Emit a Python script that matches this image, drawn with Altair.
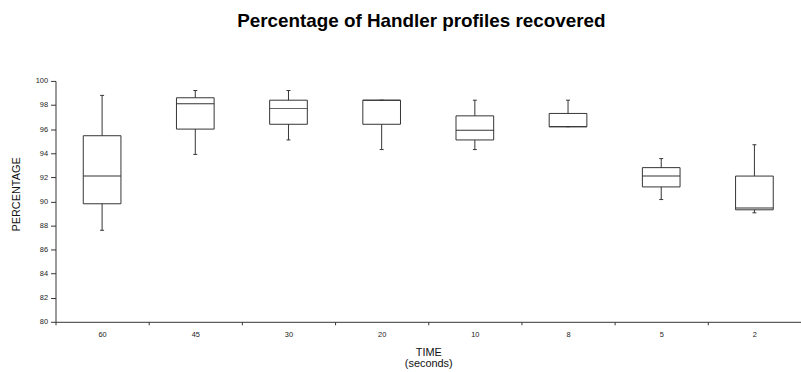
import altair as alt
import pandas as pd

times = ["60", "45", "30", "20", "10", "8", "5", "2"]
whisker_low = [87.6, 93.9, 95.1, 94.3, 94.3, 96.2, 90.15, 89.05]
q1 = [89.8, 96.0, 96.4, 96.4, 95.1, 96.2, 91.2, 89.3]
median = [92.1, 98.1, 97.7, 98.4, 95.9, 96.2, 92.1, 89.45]
q3 = [95.45, 98.6, 98.4, 98.4, 97.1, 97.3, 92.8, 92.1]
whisker_high = [98.8, 99.2, 99.2, 98.4, 98.4, 98.4, 93.55, 94.7]
y_ticks = [80, 82, 84, 86, 88, 90, 92, 94, 96, 98, 100]

df = pd.DataFrame({
    "time": times,
    "lo": whisker_low,
    "q1": q1,
    "med": median,
    "q3": q3,
    "hi": whisker_high,
})

FONT = "Liberation Sans"
LINE = "#333333"

x = alt.X(
    "time:N",
    sort=times,
    scale=alt.Scale(paddingInner=0, paddingOuter=0),
    axis=alt.Axis(
        title=["TIME", "(seconds)"],
        labelAngle=0,
        tickBand="extent",
        tickSize=3,
        labelPadding=6,
        labelFontSize=7.5,
        labelFont=FONT,
        labelColor="#222222",
        titleFont=FONT,
        titleFontSize=11,
        titleFontWeight="normal",
        titleLineHeight=12,
        titlePadding=8,
        titleColor="#111111",
        domainColor=LINE,
        tickColor=LINE,
    ),
)

yscale = alt.Scale(domain=[80, 100], nice=False, zero=False)
yaxis = alt.Axis(
    title="PERCENTAGE",
    values=y_ticks,
    labelOverlap=False,
    tickSize=5,
    labelPadding=3,
    labelFontSize=7.5,
    labelFont=FONT,
    labelColor="#222222",
    titleFont=FONT,
    titleFontSize=11,
    titleFontWeight="normal",
    titlePadding=14,
    titleY=114,
    titleColor="#111111",
    domainColor=LINE,
    tickColor=LINE,
    grid=False,
)


def yenc(field):
    return alt.Y(field, type="quantitative", scale=yscale, axis=yaxis, title="PERCENTAGE")


base = alt.Chart(df).encode(x=x)

whisk = base.mark_rule(color=LINE, strokeWidth=1).encode(y=yenc("lo"), y2="hi:Q")
box = base.mark_bar(size=38, fill="white", stroke=LINE, strokeWidth=1, opacity=1).encode(
    y=yenc("q1"), y2="q3:Q"
)
med = base.mark_tick(size=38, color=LINE, thickness=1, orient="horizontal", opacity=1).encode(
    y=yenc("med")
)
cap_lo = base.mark_tick(size=4, color=LINE, thickness=1, orient="horizontal", opacity=1).encode(
    y=yenc("lo")
)
cap_hi = base.mark_tick(size=4, color=LINE, thickness=1, orient="horizontal", opacity=1).encode(
    y=yenc("hi")
)

chart = (
    alt.layer(whisk, box, med, cap_lo, cap_hi)
    .properties(
        width=752,
        height=243,
        autosize=alt.AutoSizeParams(type="none"),
        padding={"left": 56, "top": 80, "right": 0, "bottom": 49},
        title=alt.TitleParams(
            "Percentage of Handler profiles recovered",
            font=FONT,
            fontSize=19,
            fontWeight="bold",
            color="#000000",
            anchor="middle",
            offset=46,
            dx=-7,
        ),
        background="white",
    )
    .configure_view(stroke=None)
)

chart.save("out.html", embed_options={"renderer": "svg", "actions": False})
